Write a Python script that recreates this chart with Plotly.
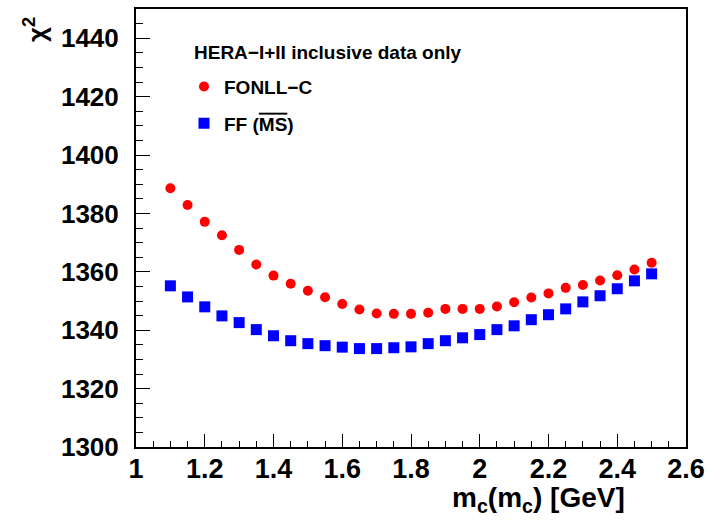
import plotly.graph_objects as go

mc = [1.10, 1.15, 1.20, 1.25, 1.30, 1.35, 1.40, 1.45, 1.50, 1.55, 1.60, 1.65, 1.70, 1.75,
      1.80, 1.85, 1.90, 1.95, 2.00, 2.05, 2.10, 2.15, 2.20, 2.25, 2.30, 2.35, 2.40, 2.45, 2.50]
chi2_fonll = [1388.6, 1382.9, 1377.1, 1372.5, 1367.5, 1362.5, 1358.7, 1355.9, 1353.5, 1351.3,
              1349.0, 1347.1, 1345.7, 1345.6, 1345.6, 1346.0, 1347.3, 1347.3, 1347.3, 1348.1,
              1349.6, 1351.2, 1352.6, 1354.5, 1355.5, 1357.0, 1358.8, 1360.8, 1363.1]
chi2_ff = [1355.2, 1351.4, 1348.0, 1344.9, 1342.6, 1340.2, 1338.1, 1336.4, 1335.4, 1334.7,
           1334.2, 1333.7, 1333.7, 1334.0, 1334.3, 1335.4, 1336.4, 1337.4, 1338.5, 1340.2,
           1341.5, 1343.6, 1345.3, 1347.3, 1349.7, 1351.8, 1354.2, 1356.9, 1359.3]
x_ticks = [1, 1.2, 1.4, 1.6, 1.8, 2, 2.2, 2.4, 2.6]
x_ticklabels = ["1", "1.2", "1.4", "1.6", "1.8", "2", "2.2", "2.4", "2.6"]
y_ticks = [1300, 1320, 1340, 1360, 1380, 1400, 1420, 1440]

FONT = "Liberation Sans, Arial, Helvetica, sans-serif"

fig = go.Figure()
fig.add_trace(go.Scatter(x=mc, y=chi2_fonll, mode="markers", name="FONLL\u2212C",
                         legendgroup="a",
                         marker=dict(symbol="circle", size=10, color="#ff0000")))
fig.add_trace(go.Scatter(x=mc, y=chi2_ff, mode="markers",
                         name="FF (<span style='text-decoration:overline'>MS</span>)",
                         legendgroup="b",
                         marker=dict(symbol="square", size=11, color="#0000ff")))

axis_common = dict(showline=True, linecolor="black", linewidth=2, mirror=True,
                   ticks="inside", tickcolor="black", showgrid=False, zeroline=False)

fig.update_xaxes(range=[1, 2.6], tickvals=x_ticks, ticktext=x_ticklabels,
                 ticklen=13, tickwidth=1, ticklabelstandoff=-3,
                 tickfont=dict(family=FONT, size=27, color="black", weight="bold"),
                 minor=dict(ticks="inside", ticklen=6, dtick=0.05, tickcolor="black", tickwidth=1),
                 **axis_common)
fig.update_yaxes(range=[1300, 1450], tickvals=y_ticks,
                 ticklen=14, tickwidth=1, ticklabelstandoff=10,
                 tickfont=dict(family=FONT, size=26, color="black", weight="bold"),
                 minor=dict(ticks="inside", ticklen=7, dtick=5, tickcolor="black", tickwidth=1),
                 **axis_common)

fig.update_layout(
    width=713, height=520,
    margin=dict(l=136, r=27, t=7, b=73),
    plot_bgcolor="white", paper_bgcolor="white",
    showlegend=True,
    legend=dict(x=(184 - 136) / 550, y=(447 - 66) / 440, xanchor="left", yanchor="top",
                bgcolor="rgba(0,0,0,0)", tracegroupgap=9,
                font=dict(family=FONT, size=19, color="black", weight="bold")),
    annotations=[
        dict(text="HERA\u2212I+II inclusive data only", xref="paper", yref="paper",
             x=(192 - 136) / 550, y=(447 - 51) / 440, xanchor="left", yanchor="middle",
             showarrow=False, font=dict(family=FONT, size=19, color="black", weight="bold")),
        dict(text="m<sub>c</sub>(m<sub>c</sub>) [GeV]", xref="paper", yref="paper",
             x=(627 - 136) / 550, y=(447 - 500) / 440, xanchor="right", yanchor="middle",
             showarrow=False, font=dict(family=FONT, size=28, color="black", weight="bold")),
        dict(text="\u03c7<sup>2</sup>", xref="paper", yref="paper", textangle=-90,
             x=(36 - 136) / 550, y=(447 - 28) / 440, xanchor="center", yanchor="middle",
             showarrow=False, font=dict(family=FONT, size=26, color="black", weight="bold")),
    ],
)

fig.write_html("out.html", config={"displayModeBar": False},
               post_script="document.body.style.margin='0';document.body.style.overflow='hidden';")
